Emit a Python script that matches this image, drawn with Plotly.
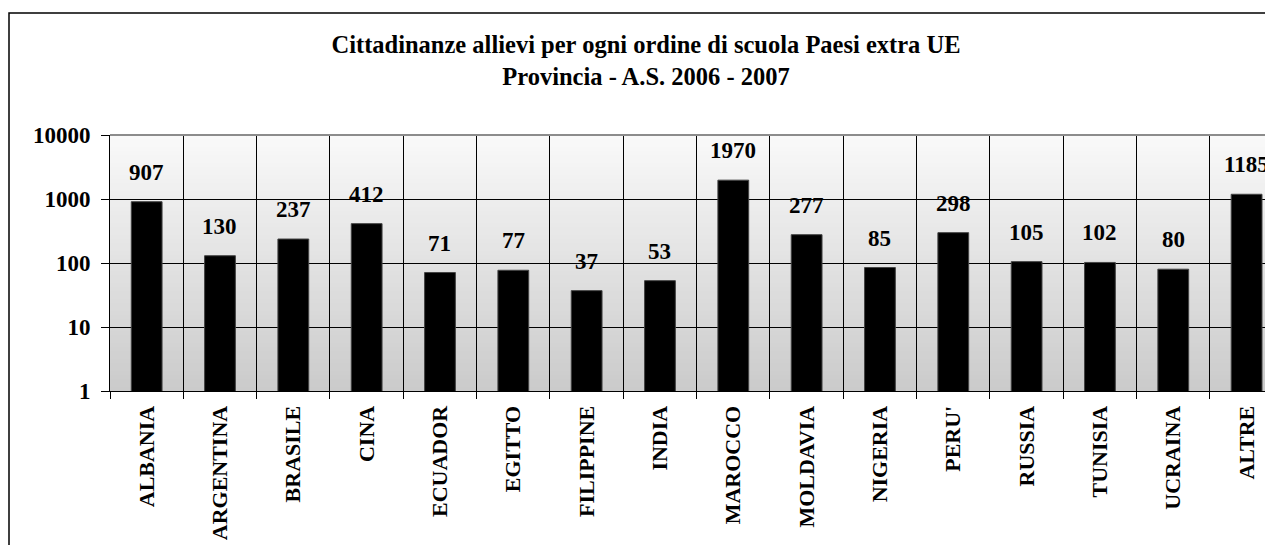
import numpy as np
import plotly.graph_objects as go

categories = ["ALBANIA", "ARGENTINA", "BRASILE", "CINA", "ECUADOR", "EGITTO", "FILIPPINE",
              "INDIA", "MAROCCO", "MOLDAVIA", "NIGERIA", "PERU'", "RUSSIA", "TUNISIA",
              "UCRAINA", "ALTRE"]
values = [907, 130, 237, 412, 71, 77, 37, 53, 1970, 277, 85, 298, 105, 102, 80, 1185]
y_tickvals = [1, 10, 100, 1000, 10000]
y_ticktext = ["1", "10", "100", "1000", "10000"]
title_lines = ["Cittadinanze allievi per ogni ordine di scuola Paesi extra UE",
               "Provincia - A.S. 2006 - 2007"]

# page body adds an 8px offset; figure sized to fit the window without scrolling
W, H = 1265, 537
ML, MT, MB, MR = 102, 127, 154, 0
FONT = "Liberation Serif, Times New Roman, serif"

fig = go.Figure()
fig.add_trace(go.Bar(
    x=categories, y=values,
    marker=dict(color="#000000", line=dict(color="#444444", width=1)),
    hoverinfo="x+y",
))

# data labels
for c, v in zip(categories, values):
    fig.add_annotation(x=c, y=np.log10(v), text=str(v), showarrow=False,
                       yanchor="bottom", yshift=15,
                       font=dict(family=FONT, size=23, color="#000", weight="bold"))

# gradient background of plot area
n = 64
top = np.array([250, 250, 250])
bot = np.array([203, 203, 203])
for i in range(n):
    t = (i + 0.5) / n
    col = (bot + (top - bot) * t).astype(int)
    fig.add_shape(type="rect", xref="paper", yref="paper", x0=0, x1=1,
                  y0=i / n, y1=(i + 1) / n, layer="below",
                  line=dict(width=0), fillcolor=f"rgb({col[0]},{col[1]},{col[2]})")

pw = W - ML - MR
ph = H - MT - MB
# top frame line of plot area
fig.add_shape(type="line", xref="paper", yref="paper", x0=0, x1=1, y0=1, y1=1,
              line=dict(color="#8c8c8c", width=2))
# outer chart border
fig.add_shape(type="rect", xref="paper", yref="paper",
              x0=(1 - ML) / pw, x1=(1320 - ML) / pw,
              y0=(H - MB - 620) / ph, y1=(H - MB - 5) / ph,
              line=dict(color="#000", width=1.5), fillcolor="rgba(0,0,0,0)")

fig.update_layout(
    width=W, height=H,
    margin=dict(l=ML, r=MR, t=MT, b=MB, pad=0),
    paper_bgcolor="white", plot_bgcolor="#e0e0e0",
    showlegend=False,
    bargap=0.58,
    title=dict(text="<br>".join(title_lines), x=638 / W, xanchor="center",
               xref="container",
               y=1 - 45 / H, yanchor="top", yref="container",
               font=dict(family=FONT, size=24.5, color="#000", weight="bold")),
    xaxis=dict(
        type="category", range=[-0.5, 15.36],
        tickson="boundaries", ticks="outside", ticklen=7, tickcolor="#000", tickwidth=1,
        ticklabelstandoff=5,
        showgrid=True, gridcolor="#000", gridwidth=1,
        showline=True, linecolor="#000", linewidth=1,
        tickangle=-90,
        tickfont=dict(family=FONT, size=22, color="#000", weight="bold"),
    ),
    yaxis=dict(
        type="log", range=[0, 4],
        tickvals=y_tickvals, ticktext=y_ticktext,
        ticks="outside", ticklen=8, tickcolor="#000", tickwidth=1,
        ticklabelstandoff=6,
        showgrid=True, gridcolor="#000", gridwidth=1,
        showline=True, linecolor="#000", linewidth=1,
        tickfont=dict(family=FONT, size=23, color="#000", weight="bold"),
    ),
)

fig.write_html("out.html")
